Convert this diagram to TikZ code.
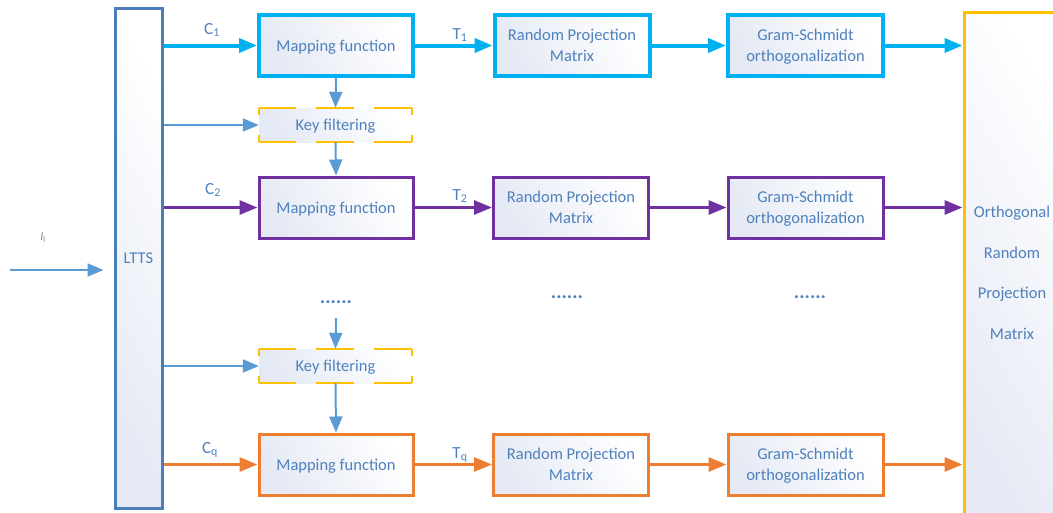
\documentclass[tikz,border=0pt]{standalone}
\usepackage{fontspec}
\setmainfont{Carlito}
\usetikzlibrary{arrows.meta}
\definecolor{txt}{HTML}{4F81BD}
\definecolor{ltb}{HTML}{4A7EBB}
\definecolor{thin}{HTML}{5B9BD5}
\definecolor{cyanc}{HTML}{00B0F0}
\definecolor{purp}{HTML}{7030A0}
\definecolor{oran}{HTML}{ED7D31}
\definecolor{yel}{HTML}{FFC000}
\definecolor{fillc}{HTML}{E4E9F4}
\tikzset{
  box/.style={draw, rectangle, left color=fillc, right color=white, shading angle=120,
    text=txt, font=\fontsize{16.5}{20.5}\selectfont, align=center, inner sep=0pt},
  mapbox/.style={box, text depth=0pt, minimum width=154pt, minimum height=61pt},
  rpbox/.style={box, text depth=0pt, minimum width=155pt, minimum height=61pt},
  keybox/.style={box, text depth=0pt, draw=none, minimum width=153pt, minimum height=34pt},
  keyh/.style={draw=yel, line width=2pt, dash pattern=on 38pt off 20pt, dash phase=0.5pt},
  keyv/.style={draw=yel, line width=2pt, dash pattern=on 38pt off 20pt, dash phase=31pt},
  rowA/.style={draw=cyanc, line width=4pt},
  rowB/.style={draw=purp, line width=3pt},
  rowC/.style={draw=oran, line width=3pt},
  bigtip/.style={-{Triangle[length=18pt,width=14pt]}},
  thinarr/.style={draw=thin, line width=2pt, -{Triangle[length=16pt,width=13pt]}},
  lab/.style={text=txt, font=\fontsize{17}{19}\selectfont, inner sep=0pt},
  dots/.style={text=txt, font=\fontsize{20}{22}\selectfont\bfseries, inner sep=0pt},
}
\begin{document}
\begin{tikzpicture}[x=1pt,y=-1pt]
\clip (0,0) rectangle (1053,512);
\useasboundingbox (0,0) rectangle (1053,512);
% big boxes
\node[box, draw=ltb, line width=3pt, minimum width=47pt, minimum height=500pt] (lt) at (138.5,258) {LTTS};
\node[box, draw=yel, line width=3pt, minimum width=96pt, minimum height=522pt, text width=90pt] (orm) at (1012,273)
  {Orthogonal\\[20pt]Random\\[20pt]Projection\\[20pt]Matrix};
% row 1
\node[mapbox, rowA] (m1) at (336,45.5) {Mapping function};
\node[rpbox, rowA] (r1) at (572,45.5) {Random Projection\\Matrix};
\node[rpbox, rowA] (g1) at (805.5,45.5) {Gram-Schmidt\\orthogonalization};
% key 1
\node[keybox] (k1) at (335.5,125) {Key filtering};
\draw[keyh] (k1.north west) -- (k1.north east);
\draw[keyh] (k1.south west) -- (k1.south east);
\draw[keyv] (k1.north west) -- (k1.south west);
\draw[keyv] (k1.north east) -- (k1.south east);
% row 2
\node[mapbox, rowB] (m2) at (336,207.5) {Mapping function};
\node[rpbox, rowB] (r2) at (571,207.5) {Random Projection\\Matrix};
\node[rpbox, rowB] (g2) at (805.5,207.5) {Gram-Schmidt\\orthogonalization};
% key 2
\node[keybox] (k2) at (335.5,366) {Key filtering};
\draw[keyh] (k2.north west) -- (k2.north east);
\draw[keyh] (k2.south west) -- (k2.south east);
\draw[keyv] (k2.north west) -- (k2.south west);
\draw[keyv] (k2.north east) -- (k2.south east);
% row q
\node[mapbox, rowC] (mq) at (336,464.5) {Mapping function};
\node[rpbox, rowC] (rq) at (571,464.5) {Random Projection\\Matrix};
\node[rpbox, rowC] (gq) at (805.5,464.5) {Gram-Schmidt\\orthogonalization};
% dots
\node[dots] (d1) at (336,302) {......};
\node[dots] (d2) at (567,297) {......};
\node[dots] (d3) at (810,297) {......};
% input
\coordinate (in) at (10,270);
\node[text=gray, font=\fontsize{12}{13}\selectfont, inner sep=0pt] (il) at (43,238) {\textit{I}\textsubscript{l}};
\draw[thinarr, shorten >=10pt] (in) -- (lt.west |- in);
% row 1 connectors
\draw[rowA, bigtip] (lt.east |- m1.west) -- (m1.west);
\draw[rowA, bigtip] (m1.east) -- (r1.west);
\draw[rowA, bigtip] (r1.east) -- (g1.west);
\draw[rowA, bigtip] (g1.east) -- (orm.west |- g1.east);
\node[lab] (c1) at (212,30) {C\textsubscript{1}};
\node[lab] (t1) at (460,35) {T\textsubscript{1}};
% key 1 connectors
\draw[thinarr] (m1.south) -- (k1.north);
\draw[thinarr] (lt.east |- k1.west) -- (k1.west);
\draw[thinarr] (k1.south) -- (m2.north);
% row 2 connectors
\draw[rowB, bigtip] (lt.east |- m2.west) -- (m2.west);
\draw[rowB, bigtip] (m2.east) -- (r2.west);
\draw[rowB, bigtip] (r2.east) -- (g2.west);
\draw[rowB, bigtip] (g2.east) -- (orm.west |- g2.east);
\node[lab] (c2) at (213,190) {C\textsubscript{2}};
\node[lab] (t2) at (460,196) {T\textsubscript{2}};
% key 2 connectors
\coordinate (dk) at (336,318);
\draw[thinarr] (dk) -- (k2.north);
\draw[thinarr] (lt.east |- k2.west) -- (k2.west);
\draw[thinarr] (k2.south) -- (mq.north);
% row q connectors
\draw[rowC, bigtip] (lt.east |- mq.west) -- (mq.west);
\draw[rowC, bigtip] (mq.east) -- (rq.west);
\draw[rowC, bigtip] (rq.east) -- (gq.west);
\draw[rowC, bigtip] (gq.east) -- (orm.west |- gq.east);
\node[lab] (cq) at (210,450) {C\textsubscript{q}};
\node[lab] (tq) at (460,455) {T\textsubscript{q}};
\end{tikzpicture}
\end{document}
